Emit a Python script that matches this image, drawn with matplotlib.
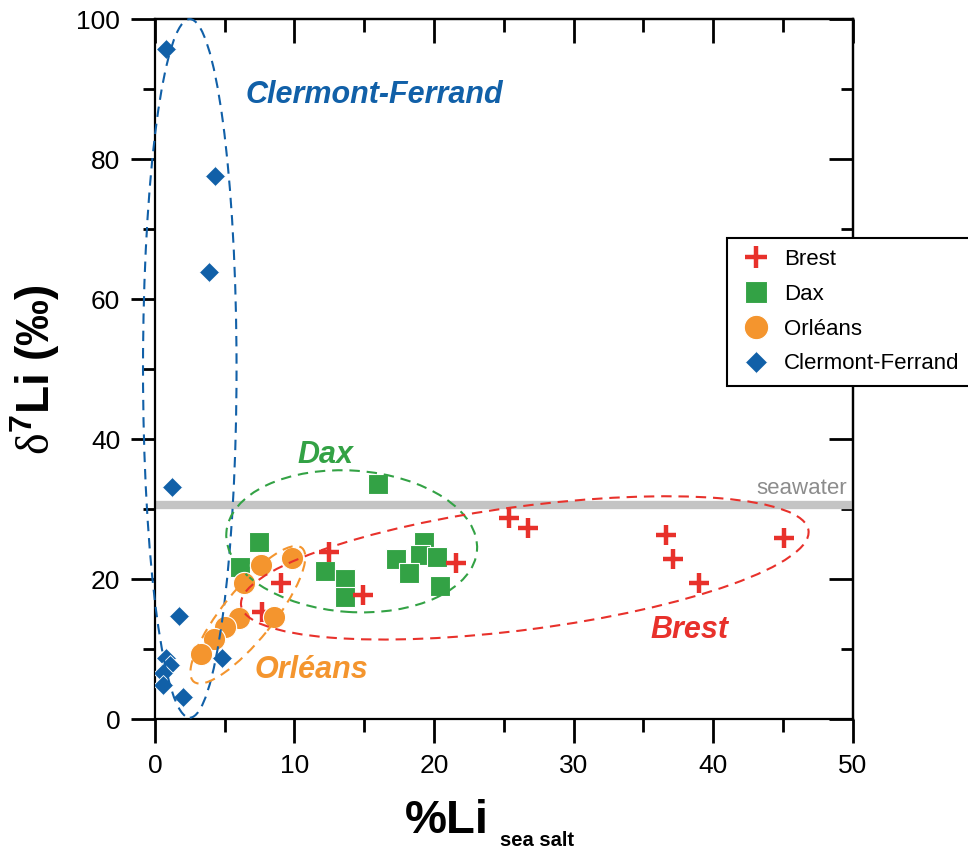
import matplotlib
matplotlib.use("Agg")
import matplotlib.pyplot as plt
from matplotlib.patches import Ellipse
from matplotlib.transforms import Affine2D

plt.rcParams["font.family"] = ["Liberation Sans", "DejaVu Sans"]
plt.rcParams["mathtext.fontset"] = "custom"
plt.rcParams["mathtext.rm"] = "Liberation Serif"
plt.rcParams["mathtext.bf"] = "Liberation Sans:bold"

# %Li from sea salt vs d7Li, per site
brest_x = [12.5, 9.0, 14.9, 21.6, 7.7, 25.4, 26.7, 36.6, 37.1, 39.0, 45.1]
brest_y = [23.9, 19.4, 17.7, 22.3, 15.3, 28.7, 27.3, 26.3, 22.9, 19.4, 25.9]

dax_x = [16.0, 7.45, 6.1, 12.2, 13.6, 13.6, 17.3, 19.3, 19.0, 18.2, 20.2, 20.4]
dax_y = [33.6, 25.3, 21.7, 21.1, 20.0, 17.4, 22.9, 25.3, 23.4, 20.9, 23.1, 19.0]

orleans_x = [9.8, 7.6, 6.4, 8.5, 6.0, 5.0, 4.2, 3.3]
orleans_y = [23.0, 22.0, 19.4, 14.6, 14.4, 13.1, 11.4, 9.3]

clermont_x = [0.8, 4.3, 3.9, 1.2, 1.7, 4.8, 0.8, 1.1, 0.6, 0.6, 2.0]
clermont_y = [95.7, 77.6, 63.9, 33.2, 14.8, 8.7, 8.8, 7.7, 6.6, 4.9, 3.1]

seawater = 30.6

# group outlines: centre (x, y), half axes, tilt in degrees
# (drawn in a space where one x unit is two y units, so shapes look round)
groups = {
    "Clermont-Ferrand": ((2.5, 50.1), (6.7, 49.9), 0),
    "Dax": ((14.1, 25.4), (18.0, 10.1), -4),
    "Orleans": ((6.66, 14.9), (12.3, 3.6), 51),
    "Brest": ((26.5, 21.6), (41.0, 8.8), 7.5),
}

red = "#e8312b"
green = "#33a245"
orange = "#f4952e"
blue = "#1160a8"

fig = plt.figure(figsize=(9.68, 8.5), dpi=100)
ax = fig.add_axes([0.160, 0.154, 0.721, 0.8235])

ax.axhline(seawater, color="#c4c4c4", lw=6, zorder=1)
ax.text(49.6, seawater + 2.4, "seawater", color="#8c8c8c", fontsize=16,
        ha="right", va="center")

h_dax, = ax.plot(dax_x, dax_y, "s", ms=14.5, color=green, mec="white",
                 mew=0.8, ls="none", zorder=3, label="Dax")
h_brest, = ax.plot(brest_x, brest_y, "+", ms=14, color=red, mew=3.2,
                   ls="none", zorder=4, label="Brest")
h_orl, = ax.plot(orleans_x, orleans_y, "o", ms=16, color=orange, mec="white",
                 mew=0.8, ls="none", zorder=5, label="Orléans")
h_cf, = ax.plot(clermont_x, clermont_y, "D", ms=10.5, color=blue, mec="white",
                mew=0.6, ls="none", zorder=6, label="Clermont-Ferrand")

scaled = Affine2D().scale(0.5, 1) + ax.transData
for name, col in [("Clermont-Ferrand", blue), ("Dax", green),
                  ("Orleans", orange), ("Brest", red)]:
    (cx, cy), (a, b), ang = groups[name]
    ax.add_patch(Ellipse((cx * 2, cy), 2 * a, 2 * b, angle=ang, fill=False,
                         ec=col, lw=1.5, ls=(0, (5, 3.3)), transform=scaled,
                         zorder=7, clip_on=False))

lab = dict(fontsize=22, fontweight="bold", style="italic", ha="center",
           va="center")
ax.text(15.7, 89.1, "Clermont-Ferrand", color=blue, **lab)
ax.text(12.2, 37.7, "Dax", color=green, **lab)
ax.text(11.2, 7.0, "Orléans", color=orange, **lab)
ax.text(38.3, 12.7, "Brest", color=red, **lab)

ax.set_xlim(0, 50)
ax.set_ylim(0, 100)
ax.set_xticks(range(0, 51, 10))
ax.set_xticks(range(5, 50, 10), minor=True)
ax.set_yticks(range(0, 101, 20))
ax.set_yticks(range(10, 100, 20), minor=True)
ax.tick_params(which="major", direction="out", length=17, width=2,
               labelsize=19, pad=8)
ax.tick_params(which="minor", direction="out", length=9, width=2)
for sp in ax.spines.values():
    sp.set_linewidth(1.6)

top = ax.secondary_xaxis("top")
top.set_xticks(range(0, 51, 10))
top.set_xticks(range(5, 50, 10), minor=True)
top.tick_params(which="major", direction="in", length=17, width=2,
                labeltop=False)
top.tick_params(which="minor", direction="in", length=9, width=2)
top.spines["top"].set_linewidth(1.6)

right = ax.secondary_yaxis("right")
right.set_yticks(range(0, 101, 20))
right.set_yticks(range(10, 100, 20), minor=True)
right.tick_params(which="major", direction="in", length=17, width=2,
                  labelright=False)
right.tick_params(which="minor", direction="in", length=9, width=2)
right.spines["right"].set_linewidth(1.6)

ax.set_ylabel(r"$\mathrm{\delta}^{\mathbf{7}}$Li (‰)", fontsize=33,
              fontweight="bold", labelpad=10)

fig.text(405 / 968, 1 - 833 / 850, "%Li", fontsize=34, fontweight="bold",
         ha="left", va="baseline")
fig.text(500 / 968, 1 - 846 / 850, "sea salt", fontsize=14.5,
         fontweight="bold", ha="left", va="baseline")

leg = fig.legend(handles=[h_brest, h_dax, h_orl, h_cf], loc="upper left",
                 bbox_to_anchor=(727 / 968, 1 - 238 / 850),
                 bbox_transform=fig.transFigure, borderaxespad=0,
                 fontsize=16, frameon=True, fancybox=False,
                 edgecolor="black", framealpha=1, labelspacing=0.62,
                 handletextpad=0.45, handlelength=1.6, borderpad=0.5,
                 markerscale=1.1)
leg.get_frame().set_linewidth(1.5)
leg.set_zorder(20)

fig.savefig("out.png", dpi=100)
